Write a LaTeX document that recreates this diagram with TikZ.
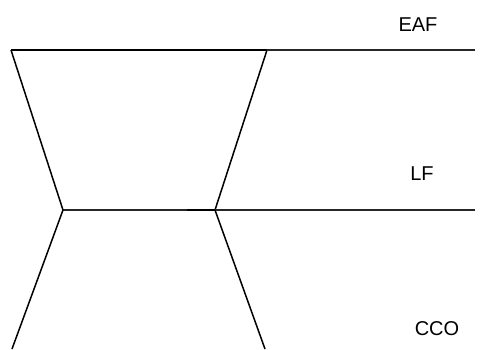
\documentclass[tikz,border=0pt]{standalone}
\usepackage{fontspec}
\setmainfont{Liberation Sans}
\usepackage{tikz}
\usetikzlibrary{positioning,calc}

\begin{document}
\begin{tikzpicture}[x=1pt,y=-1pt,
  stage/.style={line width=1.5pt, black},
  level/.style={line width=1.1pt, black!85},
  tag/.style={font=\fontsize{20}{23}\selectfont, inner sep=0pt}]
\useasboundingbox (0,0) rectangle (487,349);
% Corner points
\coordinate (eafL) at (11,50);
\coordinate (eafR) at (267,50);
\coordinate (eafE) at (475,50);
\coordinate (lfL) at (63,210);
\coordinate (lfR) at (215,210);
\coordinate (lfE) at (475,210);
\coordinate (ccoL) at (12,349);
\coordinate (ccoR) at (265,349);
% Upper funnel
\draw[stage] (eafL) -- (eafR);
\draw[stage] (eafL) -- (lfL);
\draw[stage] (eafR) -- (lfR);
\draw[level] (eafR) -- (eafE);
% Middle level
\draw[level] (lfL) -- (lfR) -- (lfE);
\draw[stage] ($(lfR)+(-28,0)$) -- (lfR);
% Lower legs
\draw[stage] (lfL) -- (ccoL);
\draw[stage] (lfR) -- (ccoR);
% Labels
\node[tag] (eaf) at (418,25) {EAF};
\node[tag] (lf) at (422,174) {LF};
\node[tag] (cco) at (437,329) {CCO};
\end{tikzpicture}
\end{document}
